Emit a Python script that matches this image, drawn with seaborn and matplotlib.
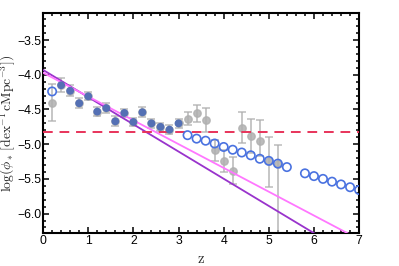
import numpy as np
import matplotlib
matplotlib.use("Agg")
import matplotlib.pyplot as plt
import seaborn as sns
from matplotlib.ticker import MultipleLocator

# grey points (all redshifts, with errors)
z_grey = [0.2, 0.4, 0.6, 0.8, 1.0, 1.2, 1.4, 1.6, 1.8, 2.0, 2.2, 2.4, 2.6, 2.8, 3.0,
          3.2, 3.4, 3.6, 3.8, 4.0, 4.2, 4.4, 4.6, 4.8, 5.0, 5.2]
phi_grey = [-4.40, -4.15, -4.23, -4.41, -4.31, -4.53, -4.48, -4.67, -4.55, -4.68, -4.54,
            -4.70, -4.75, -4.79, -4.70, -4.63, -4.55, -4.65, -5.09, -5.24, -5.38,
            -4.76, -4.88, -4.95, -5.24, -5.28]
err_lo = [0.27, 0.10, 0.08, 0.07, 0.06, 0.06, 0.07, 0.07, 0.06, 0.06, 0.07,
          0.06, 0.06, 0.07, 0.07, 0.10, 0.13, 0.17, 0.15, 0.16, 0.20,
          0.22, 0.25, 0.22, 0.38, 1.00]
err_hi = [0.27, 0.10, 0.08, 0.07, 0.06, 0.06, 0.07, 0.07, 0.06, 0.06, 0.07,
          0.06, 0.06, 0.07, 0.07, 0.10, 0.12, 0.17, 0.15, 0.16, 0.20,
          0.22, 0.25, 0.30, 0.35, 0.27]

# blue filled points
z_blue = [0.4, 0.6, 0.8, 1.0, 1.2, 1.4, 1.6, 1.8, 2.0, 2.2, 2.4, 2.6, 2.8, 3.0]
phi_blue = [-4.15, -4.23, -4.41, -4.31, -4.53, -4.48, -4.67, -4.55, -4.68, -4.54,
            -4.70, -4.75, -4.79, -4.70]

# blue open circles
z_open = [0.2, 3.2, 3.4, 3.6, 3.8, 4.0, 4.2, 4.4, 4.6, 4.8, 5.0, 5.2, 5.4,
          5.8, 6.0, 6.2, 6.4, 6.6, 6.8, 7.0]
phi_open = [-4.24, -4.87, -4.92, -4.95, -4.99, -5.04, -5.08, -5.12, -5.16, -5.21,
            -5.24, -5.28, -5.33, -5.42, -5.46, -5.50, -5.54, -5.58, -5.62, -5.66]

# linear fits (intercept, slope) and constant level
fit_purple = (-3.93, -0.392)
fit_pink = (-3.97, -0.343)
phi_const = -4.83

sns.set_style("ticks")
plt.rcParams['font.family'] = ['Liberation Sans', 'DejaVu Sans']
plt.rcParams['mathtext.fontset'] = 'cm'
plt.rcParams['axes.unicode_minus'] = True

fig = plt.figure(figsize=(3.99, 2.66), dpi=100)
ax = fig.add_axes([0.108, 0.124, 0.792, 0.827])

ax.errorbar(z_grey, phi_grey, yerr=[err_lo, err_hi], fmt='o', color='#b0b0b0',
            ms=5.3, elinewidth=1.2, capsize=2.8, capthick=1.1, alpha=0.85, zorder=2)
sns.scatterplot(x=z_blue, y=phi_blue, color='#5470b4', s=32, edgecolor='none',
                ax=ax, zorder=4)
sns.scatterplot(x=z_open, y=phi_open, facecolor='none', edgecolor='#4a72e0',
                linewidth=1.2, s=36, marker='o', ax=ax, zorder=5)

zz = np.array([0, 7.5])
ax.plot(zz, fit_purple[0] + fit_purple[1] * zz, color='#9933cc', lw=1.3, zorder=3)
ax.plot(zz, fit_pink[0] + fit_pink[1] * zz, color='#ff77ff', lw=1.3, zorder=3)
ax.axhline(phi_const, color='#e8335a', lw=1.4, ls=(0, (5, 3.5)), zorder=3)

ax.set_xlim(0, 7)
ax.set_ylim(-6.28, -3.11)
ax.xaxis.set_major_locator(MultipleLocator(1))
ax.xaxis.set_minor_locator(MultipleLocator(0.2))
ax.yaxis.set_major_locator(MultipleLocator(0.5))
ax.yaxis.set_minor_locator(MultipleLocator(0.1))
ax.tick_params(which='both', direction='in', top=True, right=True, colors='black',
               labelsize=8.8, width=1.1, pad=1.5)
ax.tick_params(which='major', length=4.5)
ax.tick_params(which='minor', length=2.5)
for s in ax.spines.values():
    s.set_linewidth(1.5)
    s.set_color('black')

ax.set_xlabel(r'$\mathrm{z}$', fontsize=10.5)
ax.set_ylabel(r'$\log(\phi_*\,[\mathrm{dex}^{-1}\,\mathrm{cMpc}^{-3}])$', fontsize=9.8)
ax.xaxis.set_label_coords(0.5, -0.085)
ax.yaxis.set_label_coords(-0.079, 0.5)

plt.savefig('out.png', dpi=100)
